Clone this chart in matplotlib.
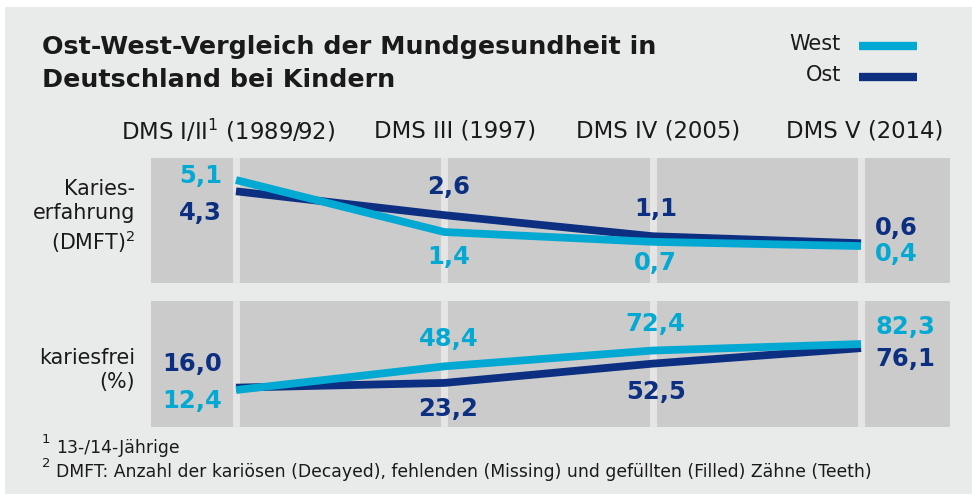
import matplotlib
matplotlib.use("Agg")
import matplotlib.pyplot as plt
from matplotlib.patches import Rectangle

# ---- data ----
studies = ["DMS I/II$^1$ (1989/92)", "DMS III (1997)", "DMS IV (2005)", "DMS V (2014)"]
dmft_west = [5.1, 1.4, 0.7, 0.4]
dmft_ost = [4.3, 2.6, 1.1, 0.6]
free_west = [12.4, 48.4, 72.4, 82.3]
free_ost = [16.0, 23.2, 52.5, 76.1]
series_names = ["West", "Ost"]

WEST = "#03a9d2"
OST = "#0c2f82"
BG = "#e9ebea"
PANEL = "#cbcbcb"
SEP = "#e4e5e4"
TXT = "#1a1a1a"

W, H = 976, 494
fig = plt.figure(figsize=(W / 100, H / 100), dpi=100)
fig.patch.set_facecolor("white")
fig.patches.append(Rectangle((5 / W, 0), (972 - 5) / W, (494 - 7) / H,
                             transform=fig.transFigure, facecolor=BG,
                             edgecolor="none", zorder=-10))


def px_axes(x0, y0, x1, y1):
    a = fig.add_axes([x0 / W, (H - y1) / H, (x1 - x0) / W, (y1 - y0) / H])
    a.set_zorder(2)
    return a


xs = list(range(len(studies)))
xlim = (-0.408, 3.427)

ax1 = px_axes(151, 158, 950, 283)
ax2 = px_axes(151, 301, 950, 427)
ax1.set_ylim(-2.23, 6.67)
ax2.set_ylim(-43.8, 147.7)

for ax in (ax1, ax2):
    ax.set_xlim(*xlim)
    ax.set_facecolor(PANEL)
    for s in ax.spines.values():
        s.set_visible(False)
    ax.set_xticks([])
    ax.set_yticks([])
    for x in xs:
        ax.axvline(x, color=SEP, lw=5.0, zorder=1)

lw = 5.6
ax1.plot(xs, dmft_ost, color=OST, lw=lw, solid_capstyle="butt", solid_joinstyle="miter", zorder=3)
ax1.plot(xs, dmft_west, color=WEST, lw=lw, solid_capstyle="butt", solid_joinstyle="miter", zorder=4)
ax2.plot(xs, free_ost, color=OST, lw=lw, solid_capstyle="butt", solid_joinstyle="miter", zorder=3)
ax2.plot(xs, free_west, color=WEST, lw=lw, solid_capstyle="butt", solid_joinstyle="miter", zorder=4)

LFS = 17.5


def fmt(v):
    return f"{v:.1f}".replace(".", ",")


def lab(ax, x, v, color, dx, dy):
    ha = "right" if x == 0 else ("left" if x == 3 else "center")
    ax.annotate(fmt(v), xy=(x, v), xytext=(dx, dy), textcoords="offset pixels",
                ha=ha, va="center", fontsize=LFS, fontweight="bold", color=color,
                annotation_clip=False, zorder=5)


# label offsets (pixels) relative to data points
top_west_off = [(-14, 4), (4, -25), (3, -21), (14, -8)]
top_ost_off = [(-14, -22), (4, 28), (3, 27), (14, 15)]
bot_west_off = [(-14, -11), (4, 27), (3, 27), (14, 17)]
bot_ost_off = [(-14, 24), (4, -26), (3, -28), (14, -11)]

for i in xs:
    lab(ax1, i, dmft_west[i], WEST, *top_west_off[i])
    lab(ax1, i, dmft_ost[i], OST, *top_ost_off[i])
    lab(ax2, i, free_west[i], WEST, *bot_west_off[i])
    lab(ax2, i, free_ost[i], OST, *bot_ost_off[i])

# column headings
head_x = [228, 455, 658, 865]
for hx, s in zip(head_x, studies):
    fig.text(hx / W, 1 - 131 / H, s, ha="center", va="center", fontsize=16.4, color=TXT)

# row labels
fig.text(135 / W, 1 - 217 / H, "Karies-\nerfahrung\n(DMFT)$^2$", ha="right", va="center",
         fontsize=14.9, color=TXT, linespacing=1.25)
fig.text(135 / W, 1 - 370 / H, "kariesfrei\n(%)", ha="right", va="center",
         fontsize=14.9, color=TXT, linespacing=1.25)

# title
fig.text(42 / W, 1 - 47 / H, "Ost-West-Vergleich der Mundgesundheit in",
         ha="left", va="center", fontsize=18.3, fontweight="bold", color=TXT)
fig.text(42 / W, 1 - 80 / H, "Deutschland bei Kindern",
         ha="left", va="center", fontsize=18.3, fontweight="bold", color=TXT)

# legend
for name, col, y in zip(series_names, [WEST, OST], [44, 75]):
    fig.text(841 / W, 1 - y / H, name, ha="right", va="center", fontsize=15, color=TXT)
    fig.add_artist(plt.Line2D([859 / W, 917 / W], [1 - (y + 2) / H] * 2, color=col,
                              lw=6, solid_capstyle="butt", transform=fig.transFigure))

# footnotes
fig.text(42 / W, 1 - 439 / H, "1", ha="left", va="center", fontsize=9.5, color=TXT)
fig.text(56 / W, 1 - 448 / H, "13-/14-Jährige", ha="left", va="center", fontsize=12.4, color=TXT)
fig.text(42 / W, 1 - 463 / H, "2", ha="left", va="center", fontsize=9.5, color=TXT)
fig.text(56 / W, 1 - 472 / H,
         "DMFT: Anzahl der kariösen (Decayed), fehlenden (Missing) und gefüllten (Filled) Zähne (Teeth)",
         ha="left", va="center", fontsize=12.4, color=TXT)

fig.savefig("out.png", dpi=100, facecolor="white")
